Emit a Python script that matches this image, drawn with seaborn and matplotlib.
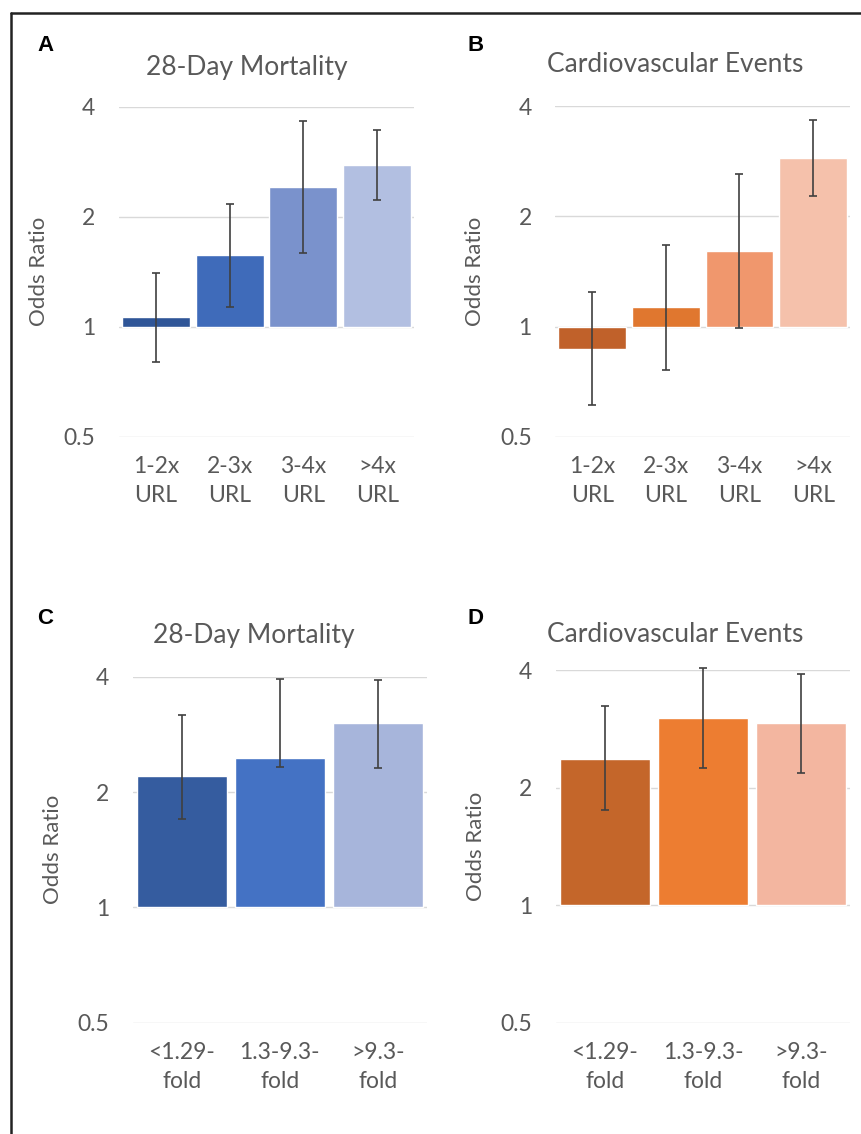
import matplotlib.pyplot as plt
from matplotlib.lines import Line2D
import seaborn as sns

sns.set_theme(style="white")
plt.rcParams["font.family"] = ["Lato", "DejaVu Sans"]

TEXT = "#595959"
GRID = "#D9D9D9"
ERR = "#404040"

# panel A / B: elevation in multiples of the upper reference limit
url_labels = ["1-2x\nURL", "2-3x\nURL", "3-4x\nURL", ">4x\nURL"]
mort_url_or = [1.06, 1.57, 2.41, 2.77]
mort_url_lo = [0.80, 1.13, 1.59, 2.22]
mort_url_hi = [1.40, 2.17, 3.66, 3.45]
cv_url_or = [0.87, 1.13, 1.61, 2.88]
cv_url_lo = [0.61, 0.76, 0.99, 2.27]
cv_url_hi = [1.24, 1.67, 2.61, 3.66]

# panel C / D: fold change
fold_labels = ["<1.29-\nfold", "1.3-9.3-\nfold", ">9.3-\nfold"]
mort_fold_or = [2.20, 2.46, 3.02]
mort_fold_lo = [1.70, 2.32, 2.31]
mort_fold_hi = [3.18, 3.95, 3.93]
cv_fold_or = [2.37, 3.02, 2.93]
cv_fold_lo = [1.75, 2.25, 2.18]
cv_fold_hi = [3.24, 4.06, 3.92]

y_ticks = [0.5, 1, 2, 4]

blues4 = ["#2F5597", "#3F6BBA", "#7A92CC", "#B2BFE1"]
oranges4 = ["#C0612A", "#E0772F", "#F0976D", "#F5C1AB"]
blues3 = ["#355C9F", "#4472C4", "#A7B5DB"]
oranges3 = ["#C4662A", "#ED7D31", "#F3B6A0"]

W, H = 862, 1134

# letter, title, labels, or, lo, hi, colours, axes box in px (left, top, right, bottom),
# letter position, title centre
panels = [
    ("A", "28-Day Mortality", url_labels, mort_url_or, mort_url_lo, mort_url_hi, blues4,
     (119, 106.7, 414, 436.7), (37, 45.5), (246.7, 67)),
    ("B", "Cardiovascular Events", url_labels, cv_url_or, cv_url_lo, cv_url_hi, oranges4,
     (555.3, 106.3, 850, 436.7), (468, 45.5), (675, 65)),
    ("C", "28-Day Mortality", fold_labels, mort_fold_or, mort_fold_lo, mort_fold_hi, blues3,
     (132.7, 676.7, 426.7, 1022.7), (37, 619), (254, 635)),
    ("D", "Cardiovascular Events", fold_labels, cv_fold_or, cv_fold_lo, cv_fold_hi, oranges3,
     (556, 670.3, 850, 1022.7), (468, 618), (675, 635)),
]

fig = plt.figure(figsize=(W / 100, H / 100), dpi=100)

for letter, title, labels, vals, lo, hi, colors, box, lpos, tpos in panels:
    l, t, r, b = box
    ax = fig.add_axes([l / W, 1 - b / H, (r - l) / W, (b - t) / H])
    sns.barplot(x=labels, y=vals, hue=labels, palette=colors, width=0.92,
                errorbar=None, legend=False, saturation=1, ax=ax)
    ax.set_yscale("log", base=2)
    # bars grow from OR = 1, like the original chart
    for p, v in zip(ax.patches, vals):
        p.set_y(1)
        p.set_height(v - 1)
    yerr = [[v - a for v, a in zip(vals, lo)], [c - v for v, c in zip(vals, hi)]]
    ax.errorbar(range(len(vals)), vals, yerr=yerr, fmt="none", ecolor=ERR,
                elinewidth=1.2, capsize=3, capthick=1.2, zorder=3, clip_on=False)
    ax.set_ylim(0.5, 4)
    ax.set_xlim(-0.5, len(vals) - 0.5)
    ax.set_yticks(y_ticks)
    ax.set_yticklabels(["0.5", "1", "2", "4"])
    ax.minorticks_off()
    ax.grid(axis="y", color=GRID, linewidth=1)
    ax.set_axisbelow(True)
    sns.despine(ax=ax, left=True, bottom=True)
    ax.tick_params(axis="y", length=0, pad=17, labelsize=16.5, labelcolor=TEXT)
    ax.tick_params(axis="x", length=0, pad=14, labelsize=16.5, labelcolor=TEXT)
    for tl in ax.get_xticklabels():
        tl.set_linespacing(1.45)
    ax.set_ylabel("Odds Ratio", fontsize=16, color=TEXT)
    ax.yaxis.label.set_va("center")
    ax.yaxis.set_label_coords(-80 / (r - l), 0.5)
    ax.set_xlabel("")
    ax.text((tpos[0] - l) / (r - l), 1 + (t - tpos[1]) / (b - t), title,
            transform=ax.transAxes, ha="center", va="center", fontsize=19, color=TEXT)
    fig.text(lpos[0] / W, 1 - lpos[1] / H, letter, ha="left", va="center",
             fontsize=16, fontweight="bold", family="Liberation Sans", color="black")

# frame round the figure (top and left edge visible)
fig.add_artist(Line2D([11 / W, 1], [1 - 13 / H, 1 - 13 / H], color="#222222", linewidth=1.8))
fig.add_artist(Line2D([11 / W, 11 / W], [0, 1 - 13 / H], color="#222222", linewidth=1.8))

fig.savefig("out.png", dpi=100)
